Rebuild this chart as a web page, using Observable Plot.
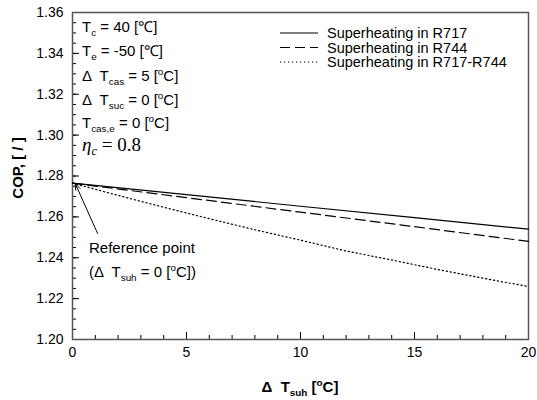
<!DOCTYPE html>
<html><head><meta charset="utf-8">
<script src="https://cdn.jsdelivr.net/npm/d3@7"></script>
<script src="https://cdn.jsdelivr.net/npm/@observablehq/plot@0.6"></script>
<style>body{margin:0;background:#fff} svg{display:block}</style>
</head><body><div id="chart"></div>
<script>
// ---- data ----
const superheatR717 = [0, 5, 10, 15, 20];
const copR717 = [1.2765, 1.2709, 1.2652, 1.2596, 1.2540];
const superheatR744 = [0, 5, 10, 15, 20];
const copR744 = [1.2765, 1.2694, 1.2623, 1.2552, 1.2480];
const superheatMix = [0, 2, 4, 6, 8, 10, 12, 14, 16, 18, 20];
const copMix = [1.2765, 1.2705, 1.2647, 1.2591, 1.2537, 1.2486, 1.2433, 1.2389, 1.2343, 1.2300, 1.2259];
const seriesNames = ["Superheating in R717", "Superheating in R744", "Superheating in R717-R744"];
const xMajorTicks = [0, 5, 10, 15, 20];
const xMinorTicks = d3.range(0, 21, 1);
const yMajorTicks = [1.20, 1.22, 1.24, 1.26, 1.28, 1.30, 1.32, 1.34, 1.36];
const yMinorTicks = d3.range(0, 33).map(i => 1.20 + i * 0.005);
const refPointArrow = [{x1: 1.10, y1: 1.2519, x2: 0.12, y2: 1.2763}];

const rows = [
  ...superheatR717.map((x, i) => ({x, y: copR717[i], series: seriesNames[0]})),
  ...superheatR744.map((x, i) => ({x, y: copR744[i], series: seriesNames[1]})),
  ...superheatMix.map((x, i) => ({x, y: copMix[i], series: seriesNames[2]}))
];
const dashes = {[seriesNames[0]]: null, [seriesNames[1]]: "10,5", [seriesNames[2]]: "1.3,2.7"};

const font = "'Liberation Sans', Arial, sans-serif";
const chart = Plot.plot({
  width: 537, height: 400,
  marginLeft: 72, marginRight: 9, marginTop: 12, marginBottom: 61,
  style: {fontFamily: font, fontSize: "14px", color: "#000", background: "#fff", overflow: "visible"},
  x: {domain: [0, 20]},
  y: {domain: [1.20, 1.36]},
  marks: [
    Plot.axisX({ticks: xMinorTicks, tickSize: -4, fill: "none", label: null}),
    Plot.axisX({ticks: xMajorTicks, tickSize: -7, fill: "none", label: null}),
    Plot.axisX({ticks: xMajorTicks, tickSize: 0, tickPadding: 8, tickFormat: d => String(d), label: null, fontSize: 14}),
    Plot.axisY({ticks: yMinorTicks, tickSize: -4, fill: "none", label: null}),
    Plot.axisY({ticks: yMajorTicks, tickSize: -7, fill: "none", label: null}),
    Plot.axisY({ticks: yMajorTicks, tickSize: 0, tickPadding: 9, tickFormat: d3.format(".2f"), label: null, fontSize: 14}),
    Plot.frame({stroke: "#555", strokeWidth: 1.5}),
    ...seriesNames.map(s => Plot.line(rows.filter(r => r.series === s), {
      x: "x", y: "y", stroke: "#000", strokeWidth: 1.2, strokeDasharray: dashes[s]
    })),
    Plot.arrow(refPointArrow, {x1: "x1", y1: "y1", x2: "x2", y2: "y2", stroke: "#000", strokeWidth: 1, headLength: 10, headAngle: 40})
  ]
});
document.getElementById("chart").appendChild(chart);

const svg = d3.select(chart);
const sx = chart.scale("x"), sy = chart.scale("y");
const L = sx.apply(0), R = sx.apply(20), T = sy.apply(1.36), B = sy.apply(1.20);

function rich(x, y, parts, o = {}) {
  const size = o.size || 15;
  const t = svg.append("text").attr("x", x).attr("y", y)
    .attr("font-family", o.family || font).attr("font-size", size)
    .attr("font-weight", o.weight || "normal").attr("fill", "#000")
    .attr("text-anchor", o.anchor || "start");
  if (o.rotate) t.attr("transform", `rotate(${o.rotate},${x},${y})`);
  let shift = 0;
  for (const p of parts) {
    const target = p.sub ? 4 : p.sup ? -6 : 0;
    const s = t.append("tspan").text(p.t).attr("dy", target - shift);
    shift = target;
    if (p.sub || p.sup) s.attr("font-size", size * 0.66);
    if (p.italic) s.attr("font-style", "italic");
  }
  return t;
}

// parameter annotations
const ax = L + 10;
rich(ax, T + 20, [{t: "T"}, {t: "c", sub: true}, {t: " = 40 [℃]"}]);
rich(ax, T + 44, [{t: "T"}, {t: "e", sub: true}, {t: " = -50 [℃]"}]);
rich(ax, T + 69, [{t: "Δ  T"}, {t: "cas", sub: true}, {t: " = 5 ["}, {t: "o", sup: true}, {t: "C]"}]);
rich(ax, T + 93, [{t: "Δ  T"}, {t: "suc", sub: true}, {t: " = 0 ["}, {t: "o", sup: true}, {t: "C]"}]);
rich(ax, T + 116, [{t: "T"}, {t: "cas,e", sub: true}, {t: " = 0 ["}, {t: "o", sup: true}, {t: "C]"}]);
rich(ax, T + 139, [{t: "η", italic: true}, {t: "c", sub: true, italic: true}, {t: " = 0.8"}], {family: "'Liberation Serif', 'Times New Roman', serif", size: 19});

// reference point
rich(L + 17, T + 241, [{t: "Reference point"}]);
rich(L + 17, T + 265, [{t: "(Δ  T"}, {t: "suh", sub: true}, {t: " = 0 ["}, {t: "o", sup: true}, {t: "C])"}]);

// axis titles
rich((L + R) / 2, 392, [{t: "Δ  T"}, {t: "suh", sub: true}, {t: " ["}, {t: "o", sup: true}, {t: "C]"}], {weight: "bold", anchor: "middle"});
rich(23, 168, [{t: "COP, [ / ]"}], {weight: "bold", anchor: "middle", rotate: -90});

// legend
const legY = [33, 47.5, 62];
seriesNames.forEach((s, i) => {
  svg.append("line").attr("x1", 280).attr("x2", 318).attr("y1", legY[i]).attr("y2", legY[i])
    .attr("stroke", "#000").attr("stroke-width", 1.2).attr("stroke-dasharray", dashes[s]);
  rich(327, legY[i] + 5, [{t: s}], {size: 14.5});
});
</script>
</body></html>
